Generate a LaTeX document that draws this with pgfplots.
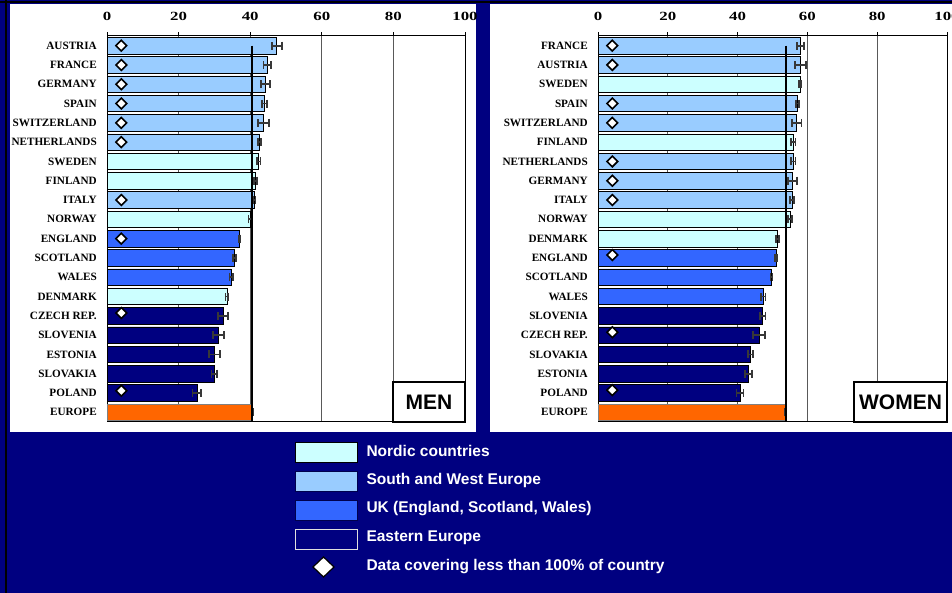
\documentclass[border=0pt]{standalone}
\usepackage{fontspec}
\setmainfont{Liberation Serif}
\newfontfamily\arial{Liberation Sans}
\newfontfamily\tickfont[FakeStretch=1.35]{Liberation Serif}
\usepackage{pgfplots}
\pgfplotsset{compat=1.18}
\definecolor{navybg}{HTML}{000080}
\definecolor{nordic}{HTML}{CCFFFF}
\definecolor{swe}{HTML}{99CCFF}
\definecolor{uk}{HTML}{3366FF}
\definecolor{east}{HTML}{000080}
\definecolor{eur}{HTML}{FF6600}
\definecolor{errc}{HTML}{383838}
\pgfplotsset{
  panel/.style={
    scale only axis, height=386pt, anchor=north west,
    xmin=0, xmax=100, ymin=-0.5, ymax=19.5,
    xtick={0,20,...,100}, xticklabel pos=right, xtick pos=right,
    ytick={0,...,19},
    xmajorgrids, grid style={black!65, line width=0.8pt},
    axis line style={black, line width=1pt},
    tick style={black, line width=0.8pt}, major tick length=3.7pt, tick align=outside,
    ytick style={draw=none},
    /pgf/number format/assume math mode=true,
    xticklabel style={font=\tickfont\bfseries\fontsize{12.5}{15}\selectfont, yshift=8.5pt},
    yticklabel style={font=\fontsize{11.2}{13}\selectfont\bfseries, xshift=-3pt},
  },
  grp/.style={xbar, bar width=16.5pt, bar shift=0pt, fill=#1, draw=black, line width=0.7pt,
    error bars/x dir=both, error bars/x explicit,
    error bars/error bar style={errc, line width=1.8pt},
    error bars/error mark options={errc, line width=1.8pt, mark size=4pt, rotate=90}},
  dia/.style={only marks, mark=square*, mark size=3.8pt,
    mark options={rotate=45, fill=white, draw=black, line width=1.6pt}},
  eline/.style={black, line width=2.2pt},
}
\begin{document}
\begin{tikzpicture}[x=1pt,y=1pt]
\useasboundingbox (0,0) rectangle (952,593);
\clip (0,0) rectangle (952,593);
\fill[navybg] (0,0) rectangle (952,593);
\draw[black, line width=2pt] (6,0) -- (6,593);
\draw[black, line width=1.5pt] (0,591) -- (952,591);
\fill[white] (10,161) rectangle (476,589);
\fill[white] (490,161) rectangle (952,589);

% ---------------- MEN ----------------
\begin{axis}[panel, at={(107pt,557pt)}, width=358pt,
  yticklabels={EUROPE,POLAND,SLOVAKIA,ESTONIA,SLOVENIA,CZECH REP.,DENMARK,WALES,SCOTLAND,ENGLAND,NORWAY,ITALY,FINLAND,SWEDEN,NETHERLANDS,SWITZERLAND,SPAIN,GERMANY,FRANCE,AUSTRIA}]
\addplot[grp=swe] coordinates {
 (47.4,19) +- (1.4,0)
 (44.7,18) +- (1.0,0)
 (44.3,17) +- (1.3,0)
 (43.9,16) +- (0.7,0)
 (43.7,15) +- (1.5,0)
 (42.6,14) +- (0.5,0)
 (41.2,11) +- (0.3,0)
};
\addplot[grp=nordic] coordinates {
 (42.4,13) +- (0.5,0)
 (41.5,12) +- (0.5,0)
 (40.0,10) +- (0.5,0)
 (33.5,6) +- (0.4,0)
};
\addplot[grp=uk] coordinates {
 (37.0,9) +- (0.2,0)
 (35.6,8) +- (0.5,0)
 (34.7,7) +- (0.5,0)
};
\addplot[grp=east] coordinates {
 (32.4,5) +- (1.5,0)
 (31.2,4) +- (1.5,0)
 (30.0,3) +- (1.5,0)
 (30.0,2) +- (0.8,0)
 (25.1,1) +- (1.2,0)
};
\addplot[grp=eur, draw=black!50] coordinates {
 (40.6,0) +- (0.2,0)
};
\addplot[eline] coordinates {(40.6,19) (40.6,-0.5)};
\addplot[dia] coordinates {
 (4,19) (4,18) (4,17) (4,16) (4,15) (4,14) (4,11) (4,9) (4,5.15) (4,1.12)
};
\end{axis}
\filldraw[fill=white, draw=black, line width=1.8pt] (393,171) rectangle (465,211);
\node[font=\arial\bfseries\fontsize{21}{24}\selectfont] at (429,191) {MEN};

% ---------------- WOMEN ----------------
\begin{axis}[panel, at={(598pt,557pt)}, width=349pt,
  yticklabels={EUROPE,POLAND,ESTONIA,SLOVAKIA,CZECH REP.,SLOVENIA,WALES,SCOTLAND,ENGLAND,DENMARK,NORWAY,ITALY,GERMANY,NETHERLANDS,FINLAND,SWITZERLAND,SPAIN,SWEDEN,AUSTRIA,FRANCE}]
\addplot[grp=swe] coordinates {
 (58.1,19) +- (1.0,0)
 (58.1,18) +- (1.6,0)
 (57.2,16) +- (0.5,0)
 (56.9,15) +- (1.4,0)
 (56.0,13) +- (0.6,0)
 (55.7,12) +- (1.3,0)
 (55.6,11) +- (0.5,0)
};
\addplot[grp=nordic] coordinates {
 (57.9,17) +- (0.3,0)
 (56.0,14) +- (0.6,0)
 (55.0,10) +- (0.6,0)
 (51.4,9) +- (0.4,0)
};
\addplot[grp=uk] coordinates {
 (51.0,8) +- (0.2,0)
 (49.7,7) +- (0.3,0)
 (47.4,6) +- (0.6,0)
};
\addplot[grp=east] coordinates {
 (47.2,5) +- (0.8,0)
 (46.2,4) +- (1.7,0)
 (43.7,3) +- (0.7,0)
 (43.2,2) +- (1.0,0)
 (40.7,1) +- (1.0,0)
};
\addplot[grp=eur, draw=black!50] coordinates {
 (53.8,0) +- (0.2,0)
};
\addplot[eline] coordinates {(53.8,19) (53.8,-0.5)};
\addplot[dia] coordinates {
 (4.1,19) (4.1,18) (4.1,16) (4.1,15) (4.1,13) (4.1,12) (4.1,11) (4.1,8.15) (4.1,4.15) (4.1,1.15)
};
\end{axis}
\filldraw[fill=white, draw=black, line width=1.8pt] (854,171) rectangle (947,211);
\node[font=\arial\bfseries\fontsize{21}{24}\selectfont] at (900.5,191) {WOMEN};

% ---------------- legend ----------------
\begin{scope}[every node/.style={anchor=west, text=white, font=\arial\bfseries\fontsize{15.5}{18}\selectfont}]
\filldraw[fill=nordic, draw=black, line width=0.8pt] (295,151) rectangle (357,131);
\node at (363,142) {Nordic countries};
\filldraw[fill=swe, draw=navybg!60!black, line width=0.8pt] (295,122) rectangle (357,102);
\node at (363,113) {South and West Europe};
\filldraw[fill=uk, draw=navybg!60!black, line width=0.8pt] (295,93) rectangle (357,73);
\node at (363,84) {UK (England, Scotland, Wales)};
\filldraw[fill=navybg, draw=white!75!gray, line width=0.8pt] (295,64) rectangle (357,44);
\node at (363,55) {Eastern Europe};
\filldraw[fill=white, draw=black, line width=1.2pt] (313,26) -- (323.5,36) -- (334,26) -- (323.5,16) -- cycle;
\node at (363,26) {Data covering less than 100\% of country};
\end{scope}
\end{tikzpicture}
\end{document}
